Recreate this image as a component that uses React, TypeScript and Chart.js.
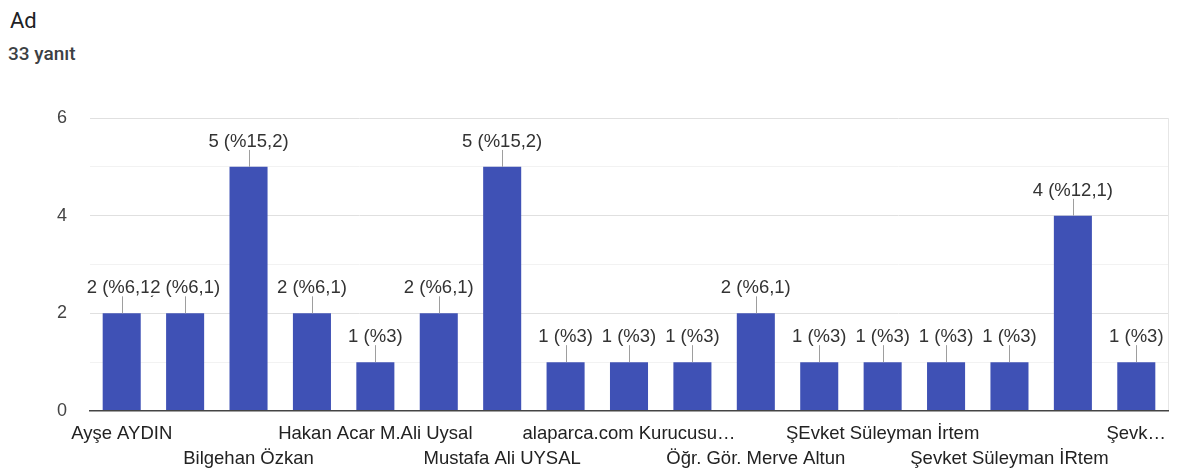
import React, { useEffect, useRef } from 'react';
import { Chart, registerables } from 'chart.js';

Chart.register(...registerables);

// ---- data ----
const questionTitle = 'Ad';
const responseLabel = '33 yanıt';
const responseCount = 33;

// Category names in chart order ("" = name not shown in the reference)
const categories = [
  'Ayşe AYDIN',
  '',
  'Bilgehan Özkan',
  '',
  'Hakan Acar M.Ali Uysal',
  '',
  'Mustafa Ali UYSAL',
  '',
  'alaparca.com Kurucusu…',
  '',
  'Öğr. Gör. Merve Altun',
  '',
  'ŞEvket Süleyman İrtem',
  '',
  'Şevket Süleyman İRtem',
  '',
  'Şevk…',
];
// Which row of the staggered axis labels each category name appears on (0 = hidden)
const labelRows = [1, 0, 2, 0, 1, 0, 2, 0, 1, 0, 2, 0, 1, 0, 2, 0, 1];
// Response counts
const counts = [2, 2, 5, 2, 1, 2, 5, 1, 1, 1, 2, 1, 1, 1, 1, 4, 1];
// Labelled y ticks
const yTickLabels = [0, 2, 4, 6];

const FONT = '"Liberation Sans", Arial, Helvetica, sans-serif';

function formatPct(v: number): string {
  const s = ((v / responseCount) * 100).toFixed(1).replace('.', ',');
  return s.endsWith(',0') ? s.slice(0, -2) : s;
}

const valueLabelPlugin = {
  id: 'valueLabels',
  afterDatasetsDraw(chart: any) {
    const { ctx } = chart;
    const meta = chart.getDatasetMeta(0);
    const data = chart.data.datasets[0].data as number[];
    ctx.save();
    ctx.strokeStyle = '#9e9e9e';
    ctx.lineWidth = 1;
    meta.data.forEach((bar: any) => {
      const x = Math.round(bar.x) + 0.5;
      ctx.beginPath();
      ctx.moveTo(x, bar.y - 17);
      ctx.lineTo(x, bar.y);
      ctx.stroke();
    });
    ctx.font = `18.5px ${FONT}`;
    ctx.textAlign = 'center';
    ctx.textBaseline = 'alphabetic';
    ctx.lineJoin = 'round';
    meta.data.forEach((bar: any, i: number) => {
      const v = data[i];
      const text = `${v} (%${formatPct(v)})`;
      ctx.lineWidth = 5;
      ctx.strokeStyle = '#ffffff';
      ctx.strokeText(text, bar.x, bar.y - 20);
      ctx.fillStyle = '#333333';
      ctx.fillText(text, bar.x, bar.y - 20);
    });
    ctx.restore();
  },
};

export default function App() {
  const canvasRef = useRef<HTMLCanvasElement>(null);

  useEffect(() => {
    Chart.defaults.font.family = FONT;
    const chart = new Chart(canvasRef.current as HTMLCanvasElement, {
      type: 'bar',
      data: {
        labels: categories,
        datasets: [
          {
            data: counts,
            backgroundColor: '#3f51b5',
            borderWidth: 0,
            barPercentage: 0.6,
            categoryPercentage: 1,
          },
        ],
      },
      options: {
        responsive: false,
        animation: false,
        events: [],
        layout: { padding: { top: 38, right: 9, bottom: 0, left: 0 } },
        plugins: {
          legend: { display: false },
          tooltip: { enabled: false },
          title: { display: false },
        },
        scales: {
          x: {
            offset: true,
            afterFit: (s: any) => {
              s.height = 61;
            },
            grid: {
              offset: true,
              drawTicks: false,
              color: (c: any) => (c.index === undefined ? '#e6e6e6' : 'rgba(0,0,0,0)'),
            },
            border: { display: true, color: '#444444', width: 1.5, z: 1 },
            ticks: {
              autoSkip: false,
              maxRotation: 0,
              minRotation: 0,
              padding: 10,
              color: '#222222',
              font: { size: 18.5, lineHeight: '25px' },
              callback: (_v: any, index: number) => {
                const row = labelRows[index];
                const name = categories[index];
                if (row === 1) return name;
                if (row === 2) return ['', name];
                return '';
              },
            },
          },
          y: {
            min: 0,
            max: 6,
            afterFit: (s: any) => {
              s.width = 90;
            },
            grid: {
              drawTicks: false,
              color: (c: any) => {
                const v = c.tick ? c.tick.value : 0;
                if (v === 0) return 'rgba(0,0,0,0)';
                return v % 2 === 0 ? '#e0e0e0' : '#f2f2f2';
              },
            },
            border: { display: false },
            ticks: {
              stepSize: 1,
              padding: 23,
              color: '#444444',
              font: { size: 18 },
              callback: (v: any) => (yTickLabels.includes(Number(v)) ? String(v) : ''),
            },
          },
        },
      },
      plugins: [valueLabelPlugin],
    });
    return () => chart.destroy();
  }, []);

  return (
    <div
      style={{
        position: 'fixed',
        left: 0,
        top: 0,
        width: 1177,
        height: 472,
        background: '#ffffff',
        overflow: 'hidden',
      }}
    >
      <div
        style={{
          position: 'absolute',
          left: 10,
          top: 10,
          fontFamily: 'Roboto, Arial, sans-serif',
          fontSize: 22,
          lineHeight: '22px',
          color: '#202124',
          whiteSpace: 'nowrap',
        }}
      >
        {questionTitle}
      </div>
      <div
        style={{
          position: 'absolute',
          left: 8,
          top: 44,
          fontFamily: 'Roboto, Arial, sans-serif',
          fontSize: 19,
          fontWeight: 500,
          lineHeight: '19px',
          color: '#3c4043',
          whiteSpace: 'nowrap',
        }}
      >
        {responseLabel}
      </div>
      <div style={{ position: 'absolute', left: 0, top: 80, width: 1177, height: 392 }}>
        <canvas ref={canvasRef} width={1177} height={392} style={{ display: 'block' }} />
      </div>
    </div>
  );
}
